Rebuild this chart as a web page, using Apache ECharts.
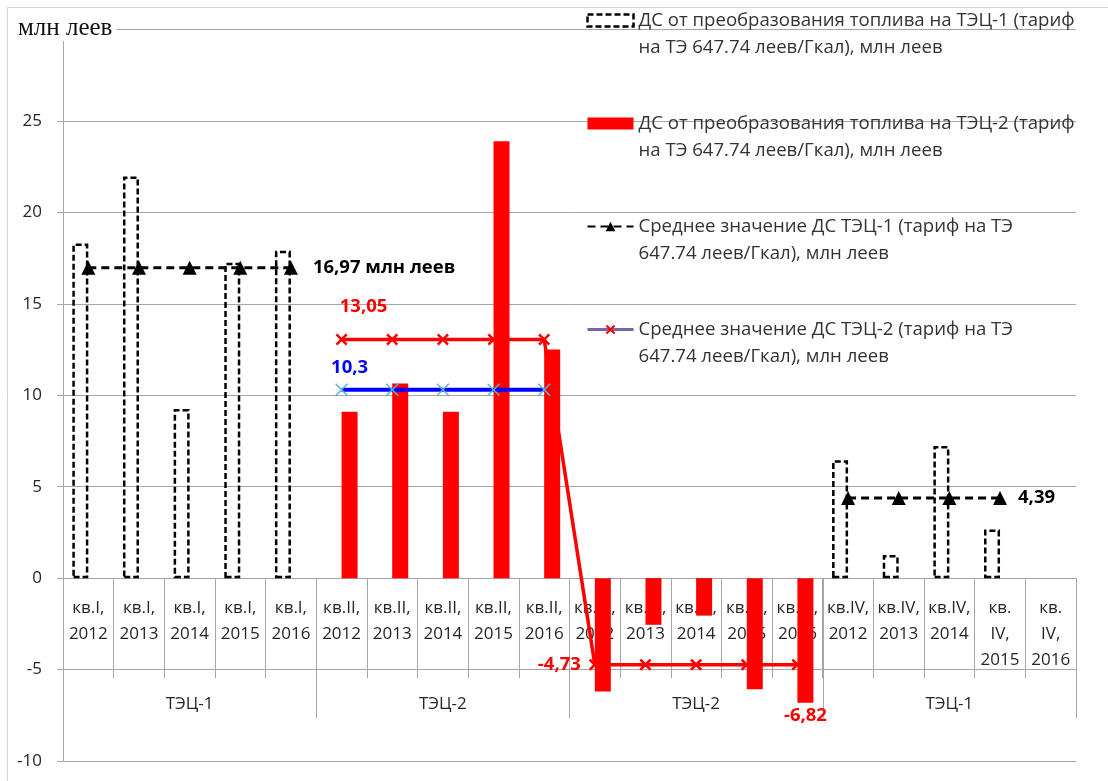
<!DOCTYPE html>
<html>
<head>
<meta charset="utf-8">
<script src="https://cdn.jsdelivr.net/npm/echarts@6/dist/echarts.min.js"></script>
<style>
  html, body { margin: 0; padding: 0; background: #fff; }
  #chart { width: 1108px; height: 781px; }
</style>
</head>
<body>
<div id="chart"></div>
<script>
// Quarterly category labels (quarter, year)
const categories = [
  'кв.I,\n2012', 'кв.I,\n2013', 'кв.I,\n2014', 'кв.I,\n2015', 'кв.I,\n2016',
  'кв.II,\n2012', 'кв.II,\n2013', 'кв.II,\n2014', 'кв.II,\n2015', 'кв.II,\n2016',
  'кв.III,\n2012', 'кв.III,\n2013', 'кв.III,\n2014', 'кв.III,\n2015', 'кв.III,\n2016',
  'кв.IV,\n2012', 'кв.IV,\n2013', 'кв.IV,\n2014', 'кв.\nIV,\n2015', 'кв.\nIV,\n2016'
];
// Plant groups under the quarters
const groups = ['ТЭЦ-1', 'ТЭЦ-2', 'ТЭЦ-2', 'ТЭЦ-1'];

// ДС, млн леев
const tec1Values = [18.3, 21.97, 9.25, 17.25, 17.9,
  null, null, null, null, null,
  null, null, null, null, null,
  6.45, 1.26, 7.23, 2.66, null];
const tec2Values = [null, null, null, null, null,
  9.1, 10.65, 9.1, 23.9, 12.5,
  -6.2, -2.55, -2.05, -6.08, -6.82,
  null, null, null, null, null];
const tec1Mean = [16.97, 16.97, 16.97, 16.97, 16.97,
  null, null, null, null, null,
  null, null, null, null, null,
  4.39, 4.39, 4.39, 4.39, null];
const tec2Mean = [null, null, null, null, null,
  13.05, 13.05, 13.05, 13.05, 13.05,
  -4.73, -4.73, -4.73, -4.73, -4.73,
  null, null, null, null, null];
const tec2Level = [null, null, null, null, null,
  10.3, 10.3, 10.3, 10.3, 10.3,
  null, null, null, null, null,
  null, null, null, null, null];

// Y axis ticks
const yMin = -10, yMax = 30, yStep = 5;

// Series names, split into the two lines shown in the legend
const nameLines = [
  ['ДС от преобразования топлива на ТЭЦ-1 (тариф', 'на ТЭ 647.74 леев/Гкал), млн леев'],
  ['ДС от преобразования топлива на ТЭЦ-2 (тариф', 'на ТЭ 647.74 леев/Гкал), млн леев'],
  ['Среднее значение ДС ТЭЦ-1 (тариф на ТЭ', '647.74 леев/Гкал), млн леев'],
  ['Среднее значение ДС ТЭЦ-2 (тариф на ТЭ', '647.74 леев/Гкал), млн леев']
];
const names = nameLines.map(l => l.join(' '));

const FONT = 'Open Sans';
const fmt = v => String(v).replace('.', ',');

// Plot frame in pixels; the category axes sit on the zero line
const GRID = { left: 63, right: 32, top: 29.6, bottom: 20 };
const plotH = 781 - GRID.top - GRID.bottom;
const zeroOffset = -plotH * (0 - yMin) / (yMax - yMin);

// X-shaped marker outlines
const crossThick = 'path://M0,1.5L1.5,0L5,3.5L8.5,0L10,1.5L6.5,5L10,8.5L8.5,10L5,6.5L1.5,10L0,8.5L3.5,5Z';
const crossThin = 'path://M0,0.8L0.8,0L5,4.2L9.2,0L10,0.8L5.8,5L10,9.2L9.2,10L5,5.8L0.8,10L0,9.2L4.2,5Z';

function withLabel(arr, idx, label) {
  return arr.map((v, i) => (i === idx ? { value: v, label: label } : v));
}

const LABEL_SIZE = 18.5;

const chart = echarts.init(document.getElementById('chart'), null, { renderer: 'canvas' });

chart.setOption({
  backgroundColor: '#fff',
  animation: false,
  textStyle: { fontFamily: FONT },
  title: {
    text: 'млн леев',
    left: 16,
    top: 16,
    padding: [0, 4, 0, 2],
    backgroundColor: '#fff',
    textStyle: { fontFamily: 'Liberation Serif', fontSize: 25, fontWeight: 'normal', color: '#111' }
  },
  graphic: [{
    type: 'rect',
    shape: { x: 7.5, y: 7.5, width: 1120, height: 800 },
    style: { fill: 'none', stroke: '#d4d4d4', lineWidth: 1 },
    silent: true
  }],
  grid: Object.assign({ outerBoundsMode: 'none', containLabel: false }, GRID),
  legend: {
    orient: 'vertical',
    left: 586,
    top: -20,
    padding: 0,
    itemGap: 22,
    itemWidth: 46,
    itemHeight: 12,
    data: [
      { name: names[0], icon: 'rect',
        itemStyle: { color: 'rgba(255,255,255,0)', borderColor: '#000', borderWidth: 2.5, borderType: [6, 3] } },
      { name: names[1], icon: 'rect' },
      { name: names[2] },
      { name: names[3], itemStyle: { color: '#ff0000' }, lineStyle: { color: '#8064a2', width: 3 } }
    ],
    formatter: function (name) {
      const i = names.indexOf(name);
      return i >= 0 ? '\n' + nameLines[i].join('\n') : name;
    },
    textStyle: { fontFamily: FONT, fontSize: 18.6, lineHeight: 27, color: '#333' }
  },
  xAxis: [{
    type: 'category',
    data: categories,
    boundaryGap: true,
    position: 'bottom',
    offset: zeroOffset,
    axisLine: { show: true, onZero: false, lineStyle: { color: '#a6a6a6', width: 1 } },
    axisTick: { show: true, interval: 0, length: 100, lineStyle: { color: '#a6a6a6' } },
    axisLabel: { interval: 0, margin: 17, fontSize: 17, lineHeight: 26, color: '#262626', fontFamily: FONT },
    splitLine: { show: false }
  }, {
    type: 'category',
    data: groups,
    boundaryGap: true,
    position: 'bottom',
    offset: zeroOffset,
    axisLine: { show: false, onZero: false },
    axisTick: { show: true, interval: 0, length: 140, lineStyle: { color: '#a6a6a6' } },
    axisLabel: { interval: 0, margin: 118, fontSize: 17, color: '#262626', fontFamily: FONT },
    splitLine: { show: false }
  }],
  yAxis: {
    type: 'value',
    min: yMin,
    max: yMax,
    interval: yStep,
    axisLine: { show: true, lineStyle: { color: '#a6a6a6' } },
    axisTick: { show: true, length: 6, lineStyle: { color: '#a6a6a6' } },
    axisLabel: {
      margin: 21, fontSize: 17, color: '#262626', fontFamily: FONT,
      formatter: v => (v === yMax ? '' : String(v))
    },
    splitLine: { show: true, lineStyle: { color: '#a6a6a6', width: 1 } }
  },
  series: [{
    name: names[0],
    type: 'bar',
    xAxisIndex: 0,
    barWidth: 16,
    barGap: '0%',
    data: tec1Values,
    itemStyle: { color: 'rgba(255,255,255,0)', borderColor: '#000', borderWidth: 2.5, borderType: [6, 3] }
  }, {
    name: names[1],
    type: 'bar',
    xAxisIndex: 0,
    barWidth: 16,
    barGap: '0%',
    data: withLabel(tec2Values, 14, {
      show: true, position: 'bottom', distance: 3,
      formatter: p => fmt(p.value), color: '#ff0000', fontWeight: 'bold', fontSize: LABEL_SIZE
    }),
    itemStyle: { color: '#ff0000' }
  }, {
    name: 'Уровень ДС ТЭЦ-2',
    type: 'line',
    xAxisIndex: 0,
    data: withLabel(tec2Level, 5, {
      show: true, position: 'top', distance: 5, offset: [8, -1],
      formatter: p => fmt(p.value), color: '#0000ff', fontWeight: 'bold', fontSize: LABEL_SIZE
    }),
    symbol: crossThin,
    symbolSize: 13,
    itemStyle: { color: '#5ab4d6' },
    lineStyle: { color: '#0000ff', width: 4 },
    connectNulls: false
  }, {
    name: names[3],
    type: 'line',
    xAxisIndex: 0,
    data: withLabel(withLabel(tec2Mean, 5, {
      show: true, position: 'top', distance: 5, offset: [22, -12],
      formatter: p => fmt(p.value), color: '#ff0000', fontWeight: 'bold', fontSize: LABEL_SIZE
    }), 10, {
      show: true, position: 'left', distance: 8,
      formatter: p => fmt(p.value), color: '#ff0000', fontWeight: 'bold', fontSize: LABEL_SIZE
    }),
    symbol: crossThick,
    symbolSize: 12,
    itemStyle: { color: '#ff0000' },
    lineStyle: { color: '#ff0000', width: 3.5 },
    connectNulls: false
  }, {
    name: names[2],
    type: 'line',
    xAxisIndex: 0,
    data: withLabel(withLabel(tec1Mean, 4, {
      show: true, position: 'right', distance: 15,
      formatter: p => fmt(p.value) + ' млн леев', color: '#000', fontWeight: 'bold', fontSize: LABEL_SIZE
    }), 18, {
      show: true, position: 'right', distance: 11,
      formatter: p => fmt(p.value), color: '#000', fontWeight: 'bold', fontSize: LABEL_SIZE
    }),
    symbol: 'triangle',
    symbolSize: 14,
    itemStyle: { color: '#000' },
    lineStyle: { color: '#000', width: 3, type: [8, 5] },
    connectNulls: false
  }]
});
</script>
</body>
</html>
